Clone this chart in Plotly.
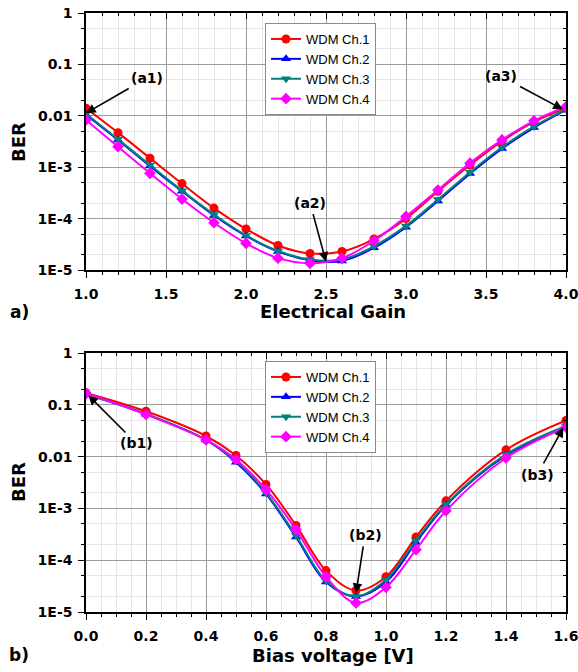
import math
import plotly.graph_objects as go

# ---------------- data ----------------
gain = [1.0, 1.2, 1.4, 1.6, 1.8, 2.0, 2.2, 2.4, 2.6, 2.8, 3.0, 3.2, 3.4, 3.6, 3.8, 4.0]
ch1_a = [1.4e-2, 4.7e-3, 1.5e-3, 4.8e-4, 1.6e-4, 6.3e-5, 3.0e-5, 2.1e-5, 2.3e-5, 4.0e-5, 1.0e-4, 3.4e-4, 1.1e-3, 3.2e-3, 7.6e-3, 1.4e-2]
ch2_a = [1.05e-2, 3.4e-3, 1.05e-3, 3.4e-4, 1.15e-4, 4.6e-5, 2.3e-5, 1.55e-5, 1.5e-5, 2.7e-5, 6.8e-5, 2.2e-4, 7.5e-4, 2.3e-3, 5.9e-3, 1.3e-2]
ch3_a = [1.1e-2, 3.5e-3, 1.1e-3, 3.5e-4, 1.2e-4, 4.7e-5, 2.35e-5, 1.6e-5, 1.6e-5, 2.9e-5, 7.2e-5, 2.35e-4, 8.0e-4, 2.45e-3, 6.2e-3, 1.35e-2]
ch4_a = [8.3e-3, 2.5e-3, 7.6e-4, 2.4e-4, 8.3e-5, 3.3e-5, 1.7e-5, 1.35e-5, 1.7e-5, 3.7e-5, 1.1e-4, 3.6e-4, 1.2e-3, 3.4e-3, 8.0e-3, 1.5e-2]

bias = [0.0, 0.2, 0.4, 0.5, 0.6, 0.7, 0.8, 0.9, 1.0, 1.1, 1.2, 1.4, 1.6]
ch1_b = [0.17, 0.075, 0.025, 0.0105, 2.9e-3, 4.7e-4, 6.3e-5, 2.6e-5, 4.8e-5, 2.8e-4, 1.4e-3, 1.35e-2, 0.05]
ch2_b = [0.16, 0.066, 0.021, 0.0078, 1.9e-3, 2.8e-4, 3.8e-5, 2.0e-5, 3.8e-5, 2.2e-4, 1.15e-3, 1.05e-2, 0.038]
ch3_b = [0.16, 0.067, 0.021, 0.0082, 2.0e-3, 3.0e-4, 4.0e-5, 2.0e-5, 4.2e-5, 2.4e-4, 1.2e-3, 1.1e-2, 0.039]
ch4_b = [0.165, 0.065, 0.021, 0.0088, 2.3e-3, 3.9e-4, 4.8e-5, 1.5e-5, 3.0e-5, 1.6e-4, 9.0e-4, 9.4e-3, 0.037]

series_names = ["WDM Ch.1", "WDM Ch.2", "WDM Ch.3", "WDM Ch.4"]
colors = ["#ff0000", "#0000ff", "#008080", "#ff00ff"]
symbols = ["circle", "triangle-up", "triangle-down", "diamond"]

ber_ticks = [1, 0.1, 0.01, 1e-3, 1e-4, 1e-5]
ber_labels = ["1", "0.1", "0.01", "1E-3", "1E-4", "1E-5"]

W, H = 578, 672

def px_x(p):
    return p / W

def px_y(p):
    return 1 - p / H

fig = go.Figure()

for name, col, sym, ys in zip(series_names, colors, symbols, [ch1_a, ch2_a, ch3_a, ch4_a]):
    fig.add_trace(go.Scatter(x=gain, y=ys, name=name, mode="lines+markers",
                             line=dict(color=col, width=2, shape="spline", smoothing=1),
                             marker=dict(color=col, symbol=sym, size=9),
                             xaxis="x", yaxis="y", legend="legend"))
for name, col, sym, ys in zip(series_names, colors, symbols, [ch1_b, ch2_b, ch3_b, ch4_b]):
    fig.add_trace(go.Scatter(x=bias, y=ys, name=name, mode="lines+markers",
                             line=dict(color=col, width=2, shape="spline", smoothing=1),
                             marker=dict(color=col, symbol=sym, size=9),
                             xaxis="x2", yaxis="y2", legend="legend2"))
# dummy traces for mirrored (inward tick) axes
fig.add_trace(go.Scatter(x=[None], y=[None], xaxis="x3", yaxis="y3", showlegend=False, hoverinfo="skip"))
fig.add_trace(go.Scatter(x=[None], y=[None], xaxis="x4", yaxis="y4", showlegend=False, hoverinfo="skip"))

tickfont = dict(family="DejaVu Sans", size=14, color="black", weight="bold")
grid_major = "#9a9a9a"
grid_minor = "#e6e6e6"

dom_x = [px_x(86), px_x(566)]
dom_a = [px_y(270), px_y(13)]
dom_b = [px_y(612), px_y(353)]

def xax(domain, rng, dtick, mdtick, anchor):
    return dict(domain=domain, range=rng, autorange=False, anchor=anchor, automargin=False,
                tickmode="linear", tick0=rng[0], dtick=dtick, tickformat=".1f",
                ticks="outside", ticklen=6, tickwidth=1, tickcolor="black",
                ticklabelstandoff=4, ticklabeloverflow="allow",
                showline=True, linecolor="black", linewidth=1.5,
                showgrid=True, gridcolor=grid_major, gridwidth=1,
                minor=dict(dtick=mdtick, ticks="outside", ticklen=3, tickcolor="black",
                           showgrid=True, gridcolor=grid_minor, gridwidth=1),
                tickfont=tickfont, zeroline=False)

def yax(domain, anchor):
    return dict(domain=domain, type="log", range=[-5, 0], autorange=False, anchor=anchor,
                automargin=False,
                tickmode="array", tickvals=ber_ticks, ticktext=ber_labels,
                ticks="outside", ticklen=6, tickwidth=1, tickcolor="black",
                ticklabelstandoff=3, ticklabeloverflow="allow",
                showline=True, linecolor="black", linewidth=1.5,
                showgrid=True, gridcolor=grid_major, gridwidth=1,
                minor=dict(dtick="D2", ticks="outside", ticklen=3, tickcolor="black",
                           showgrid=True, gridcolor=grid_minor, gridwidth=1),
                tickfont=tickfont, zeroline=False)

def xmirror(rng, dtick, mdtick, over, anchor):
    return dict(overlaying=over, side="top", anchor=anchor, range=rng, autorange=False,
                automargin=False,
                tickmode="linear", tick0=rng[0], dtick=dtick, ticks="inside", ticklen=6,
                tickcolor="black", showticklabels=False, showgrid=False, zeroline=False,
                showline=True, linecolor="black", linewidth=1.5,
                minor=dict(dtick=mdtick, ticks="inside", ticklen=3, tickcolor="black", showgrid=False))

def ymirror(over, anchor):
    return dict(overlaying=over, side="right", anchor=anchor, type="log", range=[-5, 0],
                autorange=False, automargin=False,
                tickmode="array", tickvals=ber_ticks, ticks="inside",
                ticklen=6, tickcolor="black", showticklabels=False, showgrid=False,
                zeroline=False, showline=True, linecolor="black", linewidth=1.5,
                minor=dict(dtick="D2", ticks="inside", ticklen=3, tickcolor="black", showgrid=False))

legend_common = dict(xanchor="left", yanchor="top", bgcolor="white",
                     bordercolor="#8a8a8a", borderwidth=1,
                     font=dict(family="Liberation Sans", size=13, color="black"),
                     tracegroupgap=0, itemwidth=30)

ann_font = dict(family="DejaVu Sans", size=14, color="black", weight="bold")
title_font = dict(family="DejaVu Sans", size=18, color="black", weight="bold")

def arrow_ann(xref, yref, x, y, ax, ay, text):
    return dict(xref=xref, yref=yref, x=x, y=math.log10(y), ax=ax, ay=ay, text=text,
                showarrow=True, arrowhead=2, arrowsize=1.2, arrowwidth=1.6, arrowcolor="black",
                standoff=0, startstandoff=2, font=ann_font)

annotations = [
    arrow_ann("x", "y", 1.0, 0.0113, 61, -35, "(a1)"),
    arrow_ann("x", "y", 2.5, 1.45e-5, -16, -59, "(a2)"),
    arrow_ann("x", "y", 3.98, 0.0134, -62, -33, "(a3)"),
    arrow_ann("x2", "y2", 0.008, 0.152, 48, 48, "(b1)"),
    arrow_ann("x2", "y2", 0.9, 2.33e-5, 9, -58, "(b2)"),
    arrow_ann("x2", "y2", 1.591, 0.0363, -26, 47, "(b3)"),
    # axis titles and panel labels
    dict(xref="paper", yref="paper", x=px_x(333), y=px_y(311), text="Electrical Gain",
         showarrow=False, font=title_font, xanchor="center", yanchor="middle"),
    dict(xref="paper", yref="paper", x=px_x(333), y=px_y(655), text="Bias voltage [V]",
         showarrow=False, font=title_font, xanchor="center", yanchor="middle"),
    dict(xref="paper", yref="paper", x=px_x(18), y=px_y(142), text="BER", textangle=-90,
         showarrow=False, font=title_font, xanchor="center", yanchor="middle"),
    dict(xref="paper", yref="paper", x=px_x(18), y=px_y(482), text="BER", textangle=-90,
         showarrow=False, font=title_font, xanchor="center", yanchor="middle"),
    dict(xref="paper", yref="paper", x=px_x(19), y=px_y(312), text="a)",
         showarrow=False, font=dict(family="DejaVu Sans", size=17, color="black", weight="bold"),
         xanchor="center", yanchor="middle"),
    dict(xref="paper", yref="paper", x=px_x(19), y=px_y(655), text="b)",
         showarrow=False, font=dict(family="DejaVu Sans", size=17, color="black", weight="bold"),
         xanchor="center", yanchor="middle"),
]

fig.update_layout(
    width=W, height=H,
    margin=dict(l=0, r=0, t=0, b=0, autoexpand=False),
    paper_bgcolor="white", plot_bgcolor="white",
    xaxis=xax(dom_x, [1.0, 4.0], 0.5, 0.1, "y"),
    yaxis=yax(dom_a, "x"),
    xaxis2=xax(dom_x, [0.0, 1.6], 0.2, 0.05, "y2"),
    yaxis2=yax(dom_b, "x2"),
    xaxis3=xmirror([1.0, 4.0], 0.5, 0.1, "x", "y3"),
    yaxis3=ymirror("y", "x3"),
    xaxis4=xmirror([0.0, 1.6], 0.2, 0.05, "x2", "y4"),
    yaxis4=ymirror("y2", "x4"),
    legend=dict(x=px_x(265), y=px_y(23), **legend_common),
    legend2=dict(x=px_x(265), y=px_y(361), **legend_common),
    annotations=annotations,
    showlegend=True,
)

fig.write_html("out.html",
               config={"displayModeBar": False},
               post_script="document.body.style.margin='0';document.body.style.padding='0';")
